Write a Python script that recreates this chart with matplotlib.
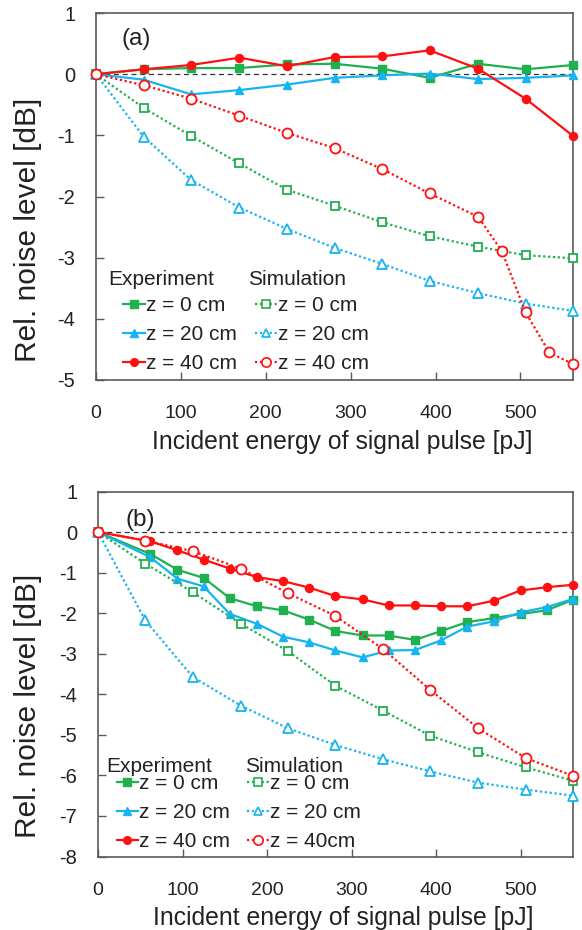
import matplotlib
matplotlib.use("Agg")
import matplotlib.pyplot as plt
from matplotlib.lines import Line2D
from matplotlib.legend import Legend

plt.rcParams['font.family'] = ['Liberation Sans', 'DejaVu Sans']
plt.rcParams['axes.unicode_minus'] = False

# panel (a) data
xa = [0, 56, 112, 169, 225, 281, 337, 393, 450, 506, 562]
exp0_a = [0, 0.08, 0.10, 0.10, 0.16, 0.17, 0.09, -0.06, 0.17, 0.08, 0.15]
exp20_a = [0, -0.09, -0.33, -0.26, -0.17, -0.06, -0.02, 0.01, -0.08, -0.06, -0.02]
exp40_a = [0, 0.08, 0.15, 0.27, 0.13, 0.28, 0.29, 0.39, 0.09, -0.40, -1.01]
sim0_a = [0, -0.55, -1.01, -1.46, -1.89, -2.15, -2.42, -2.65, -2.82, -2.96, -3.01]
sim20_a = [0, -1.02, -1.73, -2.18, -2.53, -2.84, -3.10, -3.38, -3.58, -3.75, -3.87]
xa_s40 = [0, 56, 112, 169, 225, 281, 337, 393, 450, 478, 506, 534, 562]
sim40_a = [0, -0.18, -0.40, -0.68, -0.96, -1.21, -1.55, -1.95, -2.33, -2.89, -3.89, -4.55, -4.74]

# panel (b) data
xb_exp = [0, 62, 94, 125, 156, 188, 219, 250, 281, 313, 344, 375, 406, 437, 469, 500, 531, 562]
exp0_b = [0, -0.54, -0.93, -1.13, -1.63, -1.83, -1.93, -2.16, -2.44, -2.55, -2.55, -2.66,
          -2.44, -2.22, -2.12, -2.02, -1.93, -1.67]
exp20_b = [0, -0.62, -1.15, -1.34, -2.02, -2.26, -2.58, -2.72, -2.92, -3.09, -2.92, -2.91,
           -2.67, -2.33, -2.20, -1.98, -1.85, -1.65]
exp40_b = [0, -0.23, -0.45, -0.68, -0.90, -1.11, -1.21, -1.37, -1.58, -1.66, -1.81, -1.81,
           -1.83, -1.83, -1.69, -1.44, -1.36, -1.30]
xb_sim = [0, 56, 112, 169, 225, 281, 337, 393, 450, 506, 562]
sim0_b = [0, -0.78, -1.48, -2.26, -2.94, -3.79, -4.40, -5.02, -5.43, -5.80, -6.13]
sim20_b = [0, -2.18, -3.57, -4.28, -4.84, -5.25, -5.60, -5.90, -6.18, -6.35, -6.50]
sim40_b = [0, -0.21, -0.47, -0.90, -1.51, -2.07, -2.88, -3.89, -4.84, -5.57, -6.01]

labels_exp = ['z = 0 cm', 'z = 20 cm', 'z = 40 cm']
labels_sim_a = ['z = 0 cm', 'z = 20 cm', 'z = 40 cm']
labels_sim_b = ['z = 0 cm', 'z = 20 cm', 'z = 40cm']

GREEN = '#1fb04f'
BLUE = '#16b4f0'
RED = '#ff1010'
colors = [GREEN, BLUE, RED]
markers = ['s', '^', 'o']
open_ms = [6.3, 6.8, 7.2]
TXT = '#222222'
SPINE = '#5a5a5a'
DOT = (0, (1, 1.2))

fig = plt.figure(figsize=(5.82, 9.30), dpi=100)
ax_a = fig.add_axes([0.165, 0.5914, 0.8196, 0.3946])
ax_b = fig.add_axes([0.1684, 0.079, 0.816, 0.3925])


def draw_panel(ax, x_exp, exps, x_sims, sims, sim_labels, ylim, tag, heads, legs, ylab_xy):
    ax.axhline(0, color='#333333', lw=0.9, ls=(0, (4, 3)), zorder=1)
    for y, c, m in zip(exps, colors, markers):
        ax.plot(x_exp, y, color=c, lw=1.6, marker=m, ms=5.8, mfc=c, mec=c,
                clip_on=False, zorder=3)
    for xs, y, c, m, ms in zip(x_sims, sims, colors, markers, open_ms):
        ax.plot(xs, y, color=c, lw=1.6, ls=DOT, marker=m, ms=ms,
                mfc='white', mec=c, mew=1.3, clip_on=False, zorder=4)

    ax.set_xlim(0, 562)
    ax.set_ylim(*ylim)
    ax.set_xticks([0, 100, 200, 300, 400, 500])
    ax.set_yticks(range(ylim[0], ylim[1] + 1))
    ax.tick_params(direction='in', length=5.5, width=1, colors=SPINE, labelcolor=TXT,
                   top=False, right=False)
    ax.tick_params(axis='x', pad=18, labelsize=14)
    ax.tick_params(axis='y', pad=15, labelsize=14.5)
    for s in ax.spines.values():
        s.set_color(SPINE)
        s.set_linewidth(1.2)
    ax.set_xlabel('Incident energy of signal pulse [pJ]', fontsize=17.8, color=TXT)
    ax.xaxis.set_label_coords(0.517, -0.135)
    ax.set_ylabel('Rel. noise level [dB]', fontsize=21.5, color=TXT)
    ax.yaxis.set_label_coords(*ylab_xy)
    ax.text(tag[1], tag[2], tag[0], transform=ax.transAxes, fontsize=17.5, color=TXT,
            va='center', ha='left')

    # two legend columns, each with its own header
    proxies_e = [Line2D([], [], color=c, lw=1.6, marker=m, ms=5.5, mfc=c, mec=c)
                 for c, m in zip(colors, markers)]
    proxies_s = [Line2D([], [], color=c, lw=1.6, ls=DOT, marker=m, ms=ms - 0.5,
                        mfc='white', mec=c, mew=1.2)
                 for c, m, ms in zip(colors, markers, open_ms)]
    for handles, labels, lx in [(proxies_e, labels_exp, legs[0]),
                                (proxies_s, sim_labels, legs[1])]:
        leg = Legend(ax, handles, labels, loc='center left', bbox_to_anchor=(lx, legs[2]),
                     frameon=False, fontsize=15, handlelength=1.05,
                     handletextpad=0.05, labelspacing=0.48, borderaxespad=0,
                     borderpad=0)
        for t in leg.get_texts():
            t.set_color(TXT)
        ax.add_artist(leg)
    ax.text(heads[0], heads[2], 'Experiment', transform=ax.transAxes, fontsize=15,
            color=TXT, va='center', ha='left')
    ax.text(heads[1], heads[2], 'Simulation', transform=ax.transAxes, fontsize=15,
            color=TXT, va='center', ha='left')


draw_panel(ax_a, xa, [exp0_a, exp20_a, exp40_a], [xa, xa, xa_s40],
           [sim0_a, sim20_a, sim40_a], labels_sim_a, (-5, 1), ('(a)', 0.054, 0.929),
           (0.025, 0.319, 0.274), (0.057, 0.333, 0.1245), (-0.113, 0.409))
draw_panel(ax_b, xb_exp, [exp0_b, exp20_b, exp40_b], [xb_sim, xb_sim, xb_sim],
           [sim0_b, sim20_b, sim40_b], labels_sim_b, (-8, 1), ('(b)', 0.057, 0.922),
           (0.017, 0.309, 0.248), (0.039, 0.313, 0.121), (-0.118, 0.412))

fig.savefig('out.png', dpi=100)
